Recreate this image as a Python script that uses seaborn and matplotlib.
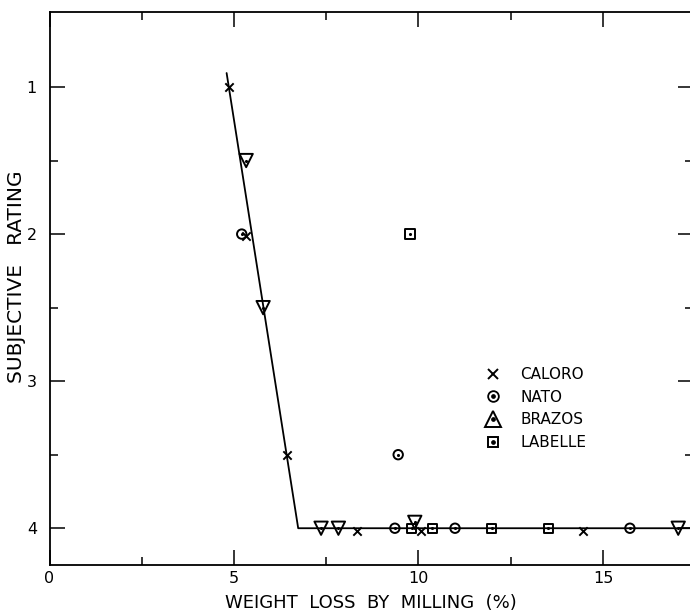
import numpy as np
import pandas as pd
import matplotlib
matplotlib.use("Agg")
import matplotlib.pyplot as plt
from matplotlib.lines import Line2D
from matplotlib.legend_handler import HandlerTuple
import seaborn as sns

# Weight loss by milling (%) and subjective rating for four rice varieties
caloro_x = [4.87, 5.32, 6.45, 8.34, 10.06, 14.47]
caloro_y = [1.0, 2.01, 3.5, 4.02, 4.02, 4.02]
nato_x = [5.21, 9.45, 9.36, 10.99, 15.73]
nato_y = [2.0, 3.5, 4.0, 4.0, 4.0]
brazos_x = [5.33, 5.79, 7.36, 7.83, 9.9, 17.04]
brazos_y = [1.5, 2.5, 4.0, 4.0, 3.96, 4.0]
labelle_x = [9.77, 9.82, 10.37, 11.98, 13.52]
labelle_y = [2.0, 4.0, 4.0, 4.0, 4.0]

# Broken-line fit through the data
fit_x = [4.80, 6.74, 17.6]
fit_y = [0.905, 4.0, 4.0]

varieties = ["CALORO", "NATO", "BRAZOS", "LABELLE"]
x_ticks = [0, 5, 10, 15]
x_minor = [2.5, 7.5, 12.5]
y_ticks = [1, 2, 3, 4]
y_minor = [1.5, 2.5, 3.5]

sns.set_theme(style="white")
plt.rcParams["font.family"] = ["DejaVu Sans"]

fig = plt.figure(figsize=(6.9, 6.12), dpi=100)
ax = fig.add_axes([49.5 / 690, 47 / 612, 643.5 / 690, 553 / 612])

fit_df = pd.DataFrame({"x": fit_x, "y": fit_y})
sns.lineplot(data=fit_df, x="x", y="y", ax=ax, color="black", lw=1.3,
             sort=False, estimator=None, zorder=2)

frames = {
    "CALORO": pd.DataFrame({"x": caloro_x, "y": caloro_y}),
    "NATO": pd.DataFrame({"x": nato_x, "y": nato_y}),
    "BRAZOS": pd.DataFrame({"x": brazos_x, "y": brazos_y}),
    "LABELLE": pd.DataFrame({"x": labelle_x, "y": labelle_y}),
}

sns.scatterplot(data=frames["CALORO"], x="x", y="y", ax=ax, marker="x",
                color="black", s=36, linewidth=1.4, zorder=3)

hollow = {"NATO": ("o", 46), "BRAZOS": ("v", 92), "LABELLE": ("s", 44)}
for name, (mk, size) in hollow.items():
    d = frames[name]
    sns.scatterplot(data=d, x="x", y="y", ax=ax, marker=mk, s=size,
                    facecolor="none", edgecolor="black", linewidth=1.4,
                    zorder=3)
    sns.scatterplot(data=d, x="x", y="y", ax=ax, marker="o", s=5,
                    color="black", linewidth=0, zorder=4)

ax.set_xlim(0, 17.44)
ax.set_ylim(4.25, 0.49)

ax.set_xticks(x_ticks)
ax.set_xticklabels([str(t) for t in x_ticks])
ax.set_xticks(x_minor, minor=True)
ax.set_yticks(y_ticks)
ax.set_yticklabels([str(t) for t in y_ticks])
ax.set_yticks(y_minor, minor=True)

ax.tick_params(axis="both", which="major", direction="in", length=11,
               width=1.1, color="black", labelsize=11.5, labelcolor="black")
ax.tick_params(axis="both", which="minor", direction="in", length=5.5,
               width=1.1, color="black")
ax.tick_params(axis="x", which="both", top=True, bottom=True, pad=4)
ax.tick_params(axis="y", which="both", left=True, right=True, pad=9)

for side, sp in ax.spines.items():
    sp.set_color("black")
    sp.set_linewidth(1.3)
ax.spines["right"].set_visible(False)

ax.set_xlabel("WEIGHT  LOSS  BY  MILLING  (%)", fontsize=13,
              color="black", labelpad=6)
ax.set_ylabel("SUBJECTIVE   RATING", fontsize=14.5, color="black")
ax.yaxis.set_label_coords(-0.036, 0.521)

# Legend: hollow marker with a central dot for the filled symbols
dot = Line2D([], [], marker="o", ls="none", color="black", markersize=2.4)
handles = [
    Line2D([], [], marker="x", ls="none", color="black", markersize=7,
           markeredgewidth=1.4),
    (Line2D([], [], marker="o", ls="none", markerfacecolor="none",
            markeredgecolor="black", markersize=7.7, markeredgewidth=1.3), dot),
    (Line2D([], [], marker="^", ls="none", markerfacecolor="none",
            markeredgecolor="black", markersize=12, markeredgewidth=1.4), dot),
    (Line2D([], [], marker="s", ls="none", markerfacecolor="none",
            markeredgecolor="black", markersize=6.5, markeredgewidth=1.4), dot),
]
leg = ax.legend(handles, varieties,
                handler_map={tuple: HandlerTuple(ndivide=1)},
                loc="upper left", bbox_to_anchor=(0.666, 0.369),
                borderaxespad=0, frameon=False, fontsize=11,
                labelcolor="black",
                handlelength=1.2, handletextpad=1.15, labelspacing=0.5)

fig.savefig("out.png", dpi=100, facecolor="white")
